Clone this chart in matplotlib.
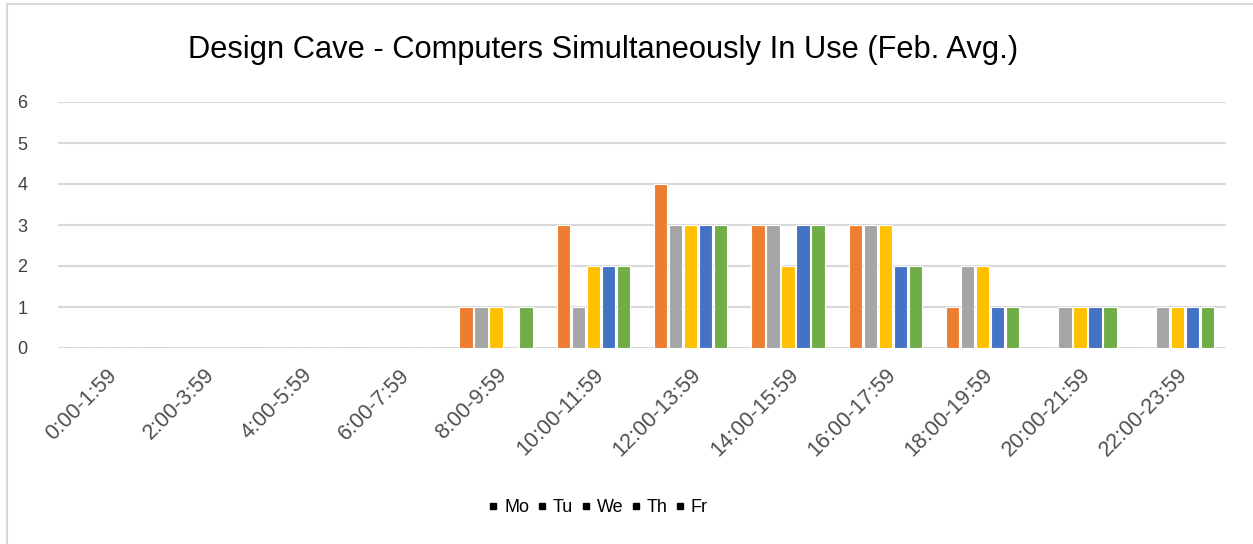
import numpy as np
import matplotlib
matplotlib.use("Agg")
import matplotlib.pyplot as plt
from matplotlib.lines import Line2D

plt.rcParams['font.family'] = ['Liberation Sans', 'DejaVu Sans']

# time slots and average number of computers in use per weekday
slots = ["0:00-1:59", "2:00-3:59", "4:00-5:59", "6:00-7:59", "8:00-9:59",
         "10:00-11:59", "12:00-13:59", "14:00-15:59", "16:00-17:59",
         "18:00-19:59", "20:00-21:59", "22:00-23:59"]
days = ["Mo", "Tu", "We", "Th", "Fr"]
mo = [0, 0, 0, 0, 1, 3, 4, 3, 3, 1, 0, 0]
tu = [0, 0, 0, 0, 1, 1, 3, 3, 3, 2, 1, 1]
we = [0, 0, 0, 0, 1, 2, 3, 2, 3, 2, 1, 1]
th = [0, 0, 0, 0, 0, 2, 3, 3, 2, 1, 1, 1]
fr = [0, 0, 0, 0, 1, 2, 3, 3, 2, 1, 1, 1]
colors = ["#ED7D31", "#A5A5A5", "#FFC000", "#4472C4", "#70AD47"]

W, H = 1253, 544
fig = plt.figure(figsize=(W / 100, H / 100), dpi=100)
ax = fig.add_axes([58 / W, 1 - 348 / H, (1226 - 58) / W, (348 - 102) / H])

x = np.arange(len(slots))
pitch = 0.154
width = 0.135
for i, (vals, c) in enumerate(zip([mo, tu, we, th, fr], colors)):
    ax.bar(x + (i - 2) * pitch, vals, width, color=c, edgecolor="white",
           linewidth=0.8, zorder=3)

ax.set_xlim(-0.5, len(slots) - 0.5)
ax.set_ylim(0, 6)
ax.set_yticks(range(7))
ax.yaxis.grid(True, color="#d9d9d9", linewidth=1.5, zorder=0)
for s in ax.spines.values():
    s.set_visible(False)
ax.tick_params(axis="y", length=0, pad=22, labelsize=13, labelcolor="#404040")
ax.tick_params(axis="x", length=0, pad=12, labelsize=15.5, labelcolor="#505050")
ax.set_xticks(x)
ax.set_xticklabels(slots, rotation=45, ha="right", rotation_mode="anchor")

fig.text(603 / W, 1 - 50 / H,
         "Design Cave - Computers Simultaneously In Use (Feb. Avg.)",
         ha="center", va="center", fontsize=22.2, color="black")

handles = [Line2D([], [], marker="s", color="black", linestyle="none",
                  markersize=5) for _ in days]
fig.legend(handles, days, loc="center", bbox_to_anchor=(598 / W, 1 - 508 / H),
           ncol=5, frameon=False, fontsize=13, handlelength=0.6,
           handletextpad=0.3, columnspacing=0.4)

# chart frame (left and top edges)
fig.add_artist(Line2D([7 / W, 7 / W], [0, 1 - 4 / H], transform=fig.transFigure,
                      color="#d9d9d9", linewidth=1.5))
fig.add_artist(Line2D([7 / W, 1], [1 - 4 / H, 1 - 4 / H], transform=fig.transFigure,
                      color="#d9d9d9", linewidth=1.5))

fig.savefig("out.png", dpi=100, facecolor="white")
